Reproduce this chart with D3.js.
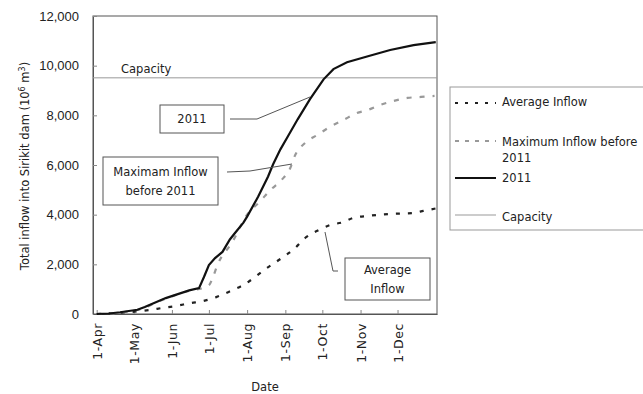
<!DOCTYPE html>
<html>
<head>
<meta charset="utf-8">
<script src="https://cdn.jsdelivr.net/npm/d3@7"></script>
<style>
  html, body { margin: 0; padding: 0; background: #fff; }
  svg { display: block; }
  text { font-family: "DejaVu Sans", sans-serif; fill: #222; }
</style>
</head>
<body>
<svg id="chart" width="643" height="394"></svg>
<script>
// Cumulative inflow into Sirikit dam, Apr–Dec (million m3)
const inflow2011 = [
  ["2011-04-01", 0], ["2011-04-11", 20], ["2011-04-20", 70], ["2011-05-04", 170],
  ["2011-05-10", 280], ["2011-05-27", 640], ["2011-06-15", 950], ["2011-06-23", 1040],
  ["2011-06-27", 1490], ["2011-07-01", 1970], ["2011-07-06", 2250], ["2011-07-12", 2500],
  ["2011-07-18", 3000], ["2011-07-22", 3250], ["2011-07-29", 3680], ["2011-08-01", 3920],
  ["2011-08-10", 4730], ["2011-08-18", 5540], ["2011-08-22", 6020], ["2011-08-28", 6630],
  ["2011-09-03", 7150], ["2011-09-11", 7840], ["2011-09-21", 8650], ["2011-10-02", 9450],
  ["2011-10-10", 9860], ["2011-10-21", 10140], ["2011-11-07", 10380], ["2011-11-25", 10630],
  ["2011-12-14", 10830], ["2012-01-01", 10950]
];
const maxInflowBefore2011 = [
  ["2011-04-01", 0], ["2011-04-20", 60], ["2011-05-04", 160], ["2011-05-27", 620],
  ["2011-06-15", 930], ["2011-06-25", 1030], ["2011-07-01", 1150],
  ["2011-07-04", 1450], ["2011-07-08", 1980], ["2011-07-20", 2900],
  ["2011-08-01", 4000], ["2011-08-11", 4510], ["2011-08-20", 5000], ["2011-08-29", 5400],
  ["2011-09-05", 5880], ["2011-09-09", 6400], ["2011-09-17", 6890], ["2011-09-27", 7210],
  ["2011-10-07", 7530], ["2011-10-18", 7810], ["2011-10-29", 8090], ["2011-11-07", 8220],
  ["2011-11-17", 8420], ["2011-11-28", 8580], ["2011-12-09", 8700], ["2011-12-20", 8740],
  ["2011-12-31", 8780]
];
const averageInflow = [
  ["2011-04-01", 0], ["2011-04-20", 50], ["2011-05-14", 160], ["2011-05-25", 250],
  ["2011-06-04", 320], ["2011-06-16", 440], ["2011-06-26", 520], ["2011-07-07", 680],
  ["2011-07-17", 890], ["2011-07-26", 1090], ["2011-07-29", 1170], ["2011-08-17", 1850],
  ["2011-08-29", 2250], ["2011-09-09", 2660], ["2011-09-17", 3060], ["2011-09-28", 3380],
  ["2011-10-07", 3580], ["2011-10-18", 3700], ["2011-10-26", 3870], ["2011-11-07", 3950],
  ["2011-11-25", 4030], ["2011-12-14", 4070], ["2011-12-22", 4150], ["2012-01-01", 4250]
];
const capacity = 9510;
const yTicks = [0, 2000, 4000, 6000, 8000, 10000, 12000];
const monthTicks = ["2011-04-01", "2011-05-01", "2011-06-01", "2011-07-01", "2011-08-01",
                    "2011-09-01", "2011-10-01", "2011-11-01", "2011-12-01"];
const legendLabels = ["Average Inflow", "Maximum Inflow before 2011", "2011", "Capacity"];

const parse = d3.utcParse("%Y-%m-%d");
const svg = d3.select("#chart");

const plot = { left: 93, right: 437, top: 16, bottom: 314 };

const x = d3.scaleUtc()
  .domain([parse("2011-03-29"), parse("2012-01-02")])
  .range([plot.left, plot.right]);
const y = d3.scaleLinear().domain([0, 12000]).range([plot.bottom, plot.top]);

// plot frame
svg.append("rect")
  .attr("x", plot.left).attr("y", plot.top)
  .attr("width", plot.right - plot.left).attr("height", plot.bottom - plot.top)
  .attr("fill", "none").attr("stroke", "#555").attr("stroke-width", 1);

// y axis
const yAxis = svg.append("g")
  .attr("transform", `translate(${plot.left},0)`)
  .call(d3.axisLeft(y).tickValues(yTicks).tickFormat(d3.format(",")).tickSizeInner(-4).tickSizeOuter(0).tickPadding(14));
yAxis.select(".domain").attr("stroke", "#555");
yAxis.selectAll(".tick line").attr("stroke", "#888");
yAxis.selectAll("text").style("font-family", "'Liberation Sans', Arial, sans-serif")
  .style("font-size", "13px").attr("fill", "#222");

// x axis
const xAxis = svg.append("g")
  .attr("transform", `translate(0,${plot.bottom})`)
  .call(d3.axisBottom(x).tickValues(monthTicks.map(parse))
    .tickFormat(d3.utcFormat("%-d-%b")).tickSizeInner(-4).tickSizeOuter(0));
xAxis.select(".domain").attr("stroke", "#555");
xAxis.selectAll(".tick line").attr("stroke", "#888");
xAxis.selectAll("text")
  .attr("transform", "rotate(-90)")
  .attr("x", -9).attr("y", 0).attr("dy", "0.36em")
  .attr("text-anchor", "end")
  .style("font-family", "'DejaVu Sans', sans-serif")
  .style("font-size", "12.5px").style("letter-spacing", "0.6px").attr("fill", "#222");

// axis titles
svg.append("text")
  .attr("x", 265).attr("y", 391).attr("text-anchor", "middle")
  .style("font-size", "11.5px").text("Date");

const yTitle = svg.append("text")
  .attr("transform", "translate(29,166) rotate(-90)")
  .attr("text-anchor", "middle")
  .style("font-size", "11.5px");
yTitle.append("tspan").text("Total inflow into Sirikit dam (10");
yTitle.append("tspan").attr("baseline-shift", "super").style("font-size", "8px").text("6");
yTitle.append("tspan").text(" m");
yTitle.append("tspan").attr("baseline-shift", "super").style("font-size", "8px").text("3");
yTitle.append("tspan").text(")");

// capacity line
svg.append("line")
  .attr("x1", plot.left).attr("x2", plot.right)
  .attr("y1", y(capacity)).attr("y2", y(capacity))
  .attr("stroke", "#999").attr("stroke-width", 1);
svg.append("text").attr("x", 121).attr("y", 73)
  .style("font-size", "11.5px").text("Capacity");

const line = d3.line()
  .x(d => x(parse(d[0])))
  .y(d => y(d[1]));

svg.append("path").datum(averageInflow)
  .attr("d", line.curve(d3.curveMonotoneX))
  .attr("fill", "none").attr("stroke", "#222").attr("stroke-width", 2.2)
  .attr("stroke-dasharray", "4,8");

svg.append("path").datum(maxInflowBefore2011)
  .attr("d", line.curve(d3.curveMonotoneX))
  .attr("fill", "none").attr("stroke", "#999").attr("stroke-width", 2.2)
  .attr("stroke-dasharray", "5,8");

svg.append("path").datum(inflow2011)
  .attr("d", line.curve(d3.curveLinear))
  .attr("fill", "none").attr("stroke", "#111").attr("stroke-width", 2.2);

// callout boxes with leader lines
function callout(bx, by, bw, bh, lines, leader) {
  svg.append("rect").attr("x", bx).attr("y", by).attr("width", bw).attr("height", bh)
    .attr("fill", "#fff").attr("stroke", "#555").attr("stroke-width", 1);
  const cy = by + bh / 2 - (lines.length - 1) * 9.5;
  lines.forEach((t, i) => {
    svg.append("text").attr("x", bx + bw / 2).attr("y", cy + i * 19).attr("dy", "0.35em")
      .attr("text-anchor", "middle").style("font-size", "11.5px").text(t);
  });
  svg.append("polyline").attr("points", leader.map(p => p.join(",")).join(" "))
    .attr("fill", "none").attr("stroke", "#555").attr("stroke-width", 1);
}
callout(160, 105, 64, 28, ["2011"], [[230, 119], [257, 119], [310, 97]]);
callout(103, 157, 115, 48, ["Maximam Inflow", "before 2011"], [[227, 172], [250, 171], [292, 164]]);
callout(345, 258, 85, 42, ["Average", "Inflow"], [[325, 232], [333, 271], [338, 271]]);

// legend
svg.append("rect").attr("x", 450).attr("y", 87).attr("width", 220).attr("height", 143)
  .attr("fill", "#fff").attr("stroke", "#999").attr("stroke-width", 1);
const legendStyles = [
  { stroke: "#222", width: 2.2, dash: "3,7", y: 103, text: [[legendLabels[0], 106]] },
  { stroke: "#999", width: 2.2, dash: "4,6", y: 141, text: [["Maximum Inflow before", 146], ["2011", 162]] },
  { stroke: "#111", width: 2, dash: null, y: 178, text: [[legendLabels[2], 182]] },
  { stroke: "#999", width: 1, dash: null, y: 215, text: [[legendLabels[3], 221]] }
];
legendStyles.forEach(s => {
  svg.append("line").attr("x1", 455).attr("x2", 496).attr("y1", s.y).attr("y2", s.y)
    .attr("stroke", s.stroke).attr("stroke-width", s.width)
    .attr("stroke-dasharray", s.dash);
  s.text.forEach(([t, ty]) => {
    svg.append("text").attr("x", 502).attr("y", ty).style("font-size", "11.5px").text(t);
  });
});
</script>
</body>
</html>
